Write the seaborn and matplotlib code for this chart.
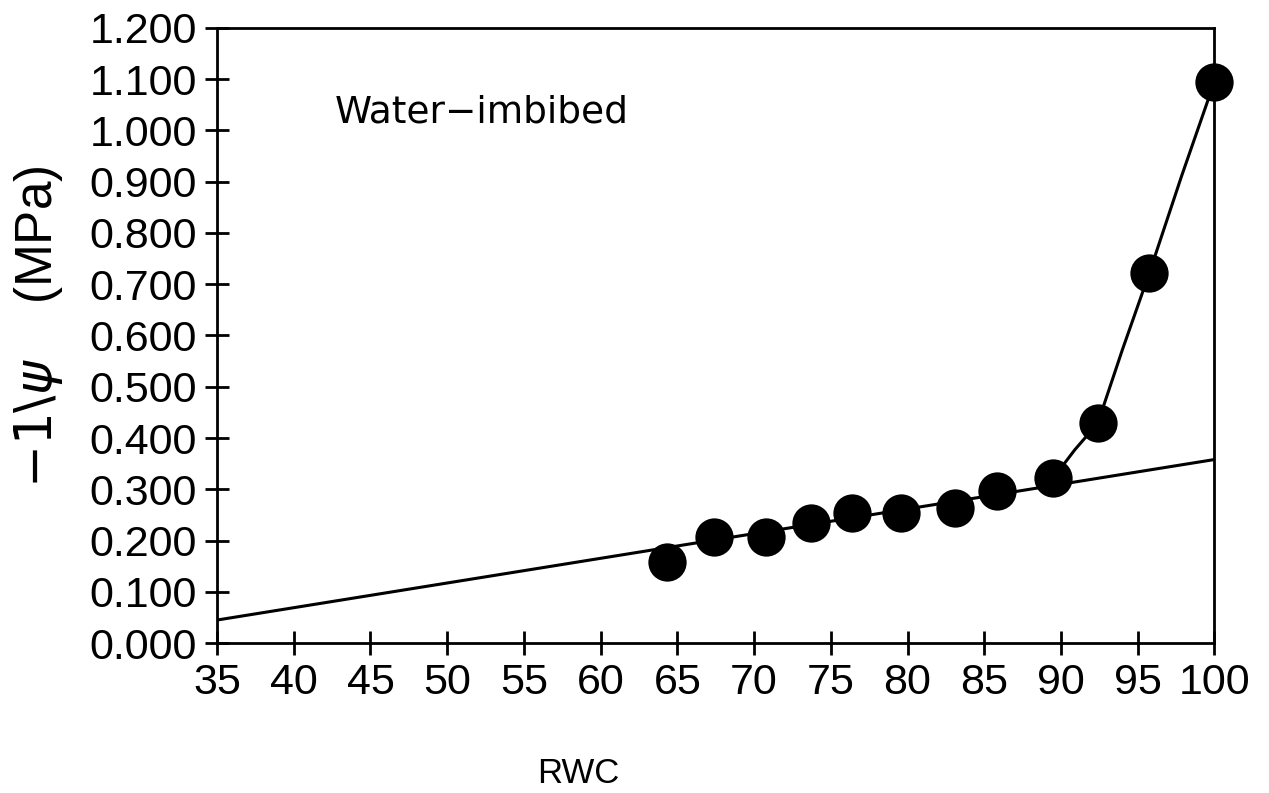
import numpy as np
import pandas as pd
import matplotlib
matplotlib.use("Agg")
import matplotlib.pyplot as plt
import seaborn as sns
from matplotlib.ticker import MultipleLocator, FormatStrFormatter

sns.set_style("ticks")
plt.rcParams['font.family'] = ['Liberation Sans', 'DejaVu Sans']
plt.rcParams['mathtext.fontset'] = 'dejavusans'
plt.rcParams['text.color'] = 'black'
plt.rcParams['axes.labelcolor'] = 'black'

# measured points (RWC vs -1/psi)
rwc = [64.3, 67.4, 70.8, 73.7, 76.4, 79.6, 83.1, 85.8, 89.5, 92.4, 95.75, 100.0]
inv_psi = [0.158, 0.207, 0.207, 0.234, 0.254, 0.254, 0.263, 0.297, 0.322, 0.429, 0.721, 1.095]

# fitted straight line (read at its ends)
line_x = [35, 100]
line_y = [0.045, 0.358]

# curve through the high-RWC points
curve_x = [89.5, 90.9, 92.4, 94.0, 95.75, 97.85, 100.0]
curve_y = [0.322, 0.377, 0.429, 0.572, 0.721, 0.910, 1.095]

pts = pd.DataFrame({'RWC': rwc, 'psi': inv_psi})
lin = pd.DataFrame({'RWC': line_x, 'psi': line_y})
crv = pd.DataFrame({'RWC': curve_x, 'psi': curve_y})

fig = plt.figure(figsize=(12.69, 7.93), dpi=100)
ax = fig.add_axes([0.171, 0.189, 0.786, 0.776])

sns.lineplot(data=lin, x='RWC', y='psi', color='black', linewidth=2.2, ax=ax, zorder=2)
sns.lineplot(data=crv, x='RWC', y='psi', color='black', linewidth=2.2, ax=ax, zorder=2)
sns.scatterplot(data=pts, x='RWC', y='psi', color='black', s=760, linewidth=0, ax=ax,
                zorder=3, clip_on=False)

ax.set_xlim(35, 100)
ax.set_ylim(0, 1.2)
ax.xaxis.set_major_locator(MultipleLocator(5))
ax.yaxis.set_major_locator(MultipleLocator(0.1))
ax.yaxis.set_major_formatter(FormatStrFormatter('%.3f'))

for s in ax.spines.values():
    s.set_linewidth(2.0)
    s.set_color('black')
ax.tick_params(axis='both', which='major', direction='inout', length=17, width=2.0,
               labelsize=31, pad=6, colors='black')
ax.tick_params(top=False, right=False)

ax.text(0.118, 0.862, 'Water\u2212imbibed', transform=ax.transAxes, fontsize=27,
        family=['DejaVu Sans'], ha='left', va='center')

ax.set_xlabel('RWC', fontsize=25)
ax.xaxis.set_label_coords(0.362, -0.185)
ax.set_ylabel(r'$-1\backslash\psi$    (MPa)', fontsize=37)
ax.yaxis.set_label_coords(-0.152, 0.515)

fig.savefig('out.png', dpi=100)
